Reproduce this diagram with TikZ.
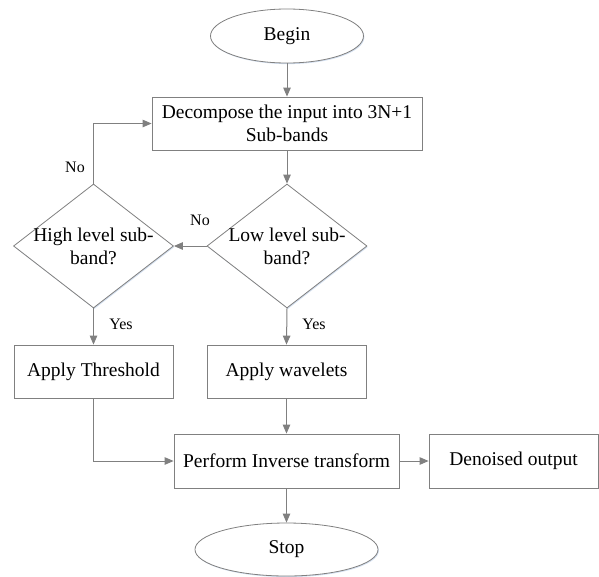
\documentclass[tikz,border=0pt]{standalone}
\usepackage{fontspec}
\setmainfont{Liberation Serif}
\usetikzlibrary{shapes.geometric,arrows.meta,shadows}
\definecolor{linegray}{HTML}{808080}
\definecolor{shadowblue}{HTML}{C9D8EC}
\begin{document}
\begin{tikzpicture}[x=1pt,y=-1pt,
  every node/.style={font=\fontsize{19.5}{23.4}\selectfont},
  shad/.style={drop shadow={shadow xshift=0.9pt,shadow yshift=-1.1pt,fill=shadowblue,opacity=0.8}},
  box/.style={draw=linegray,line width=0.8pt,fill=white,rectangle,inner sep=0pt,align=center,shad},
  oval/.style={draw=linegray,line width=0.8pt,fill=white,ellipse,inner sep=0pt,shad},
  dia/.style={draw=linegray,line width=0.8pt,fill=white,diamond,inner sep=0pt,minimum width=160pt,minimum height=124pt,shad},
  inlbl/.style={align=center,font=\fontsize{19.5}{23}\selectfont},
  lbl/.style={font=\fontsize{16}{19}\selectfont,inner sep=0pt},
  conn/.style={draw=linegray,line width=1pt,-{Triangle[length=9pt,width=7.5pt]}}
]
\useasboundingbox (0,0) rectangle (599,576);
\node[oval,minimum width=153pt,minimum height=54pt] (begin) at (287,36) {Begin};
\node[box,minimum width=270pt,minimum height=53pt] (dec) at (287,123.5) {Decompose the input into 3N+1\\Sub-bands};
\node[dia] (low) at (287,246) {};
\node[inlbl] (lowt) at (287,246) {Low level sub-\\band?};
\node[dia] (high) at (93.5,246) {};
\node[inlbl] (hight) at (93.5,246) {High level sub-\\band?};
\node[box,minimum width=159pt,minimum height=53pt] (thr) at (93.5,371.5) {Apply Threshold};
\node[box,minimum width=159pt,minimum height=53pt] (wav) at (286.5,371.5) {Apply wavelets};
\node[box,minimum width=225pt,minimum height=54pt] (inv) at (286.5,461) {Perform Inverse transform};
\node[box,minimum width=169pt,minimum height=54pt] (den) at (513.5,461) {Denoised output};
\node[oval,minimum width=183pt,minimum height=53pt] (stop) at (286.5,549.5) {Stop};

\draw[conn] (begin.south) -- (dec.north);
\draw[conn] (dec.south) -- (low.north);
\draw[conn] (low.west) -- (high.east);
\draw[conn] (high.north) |- (dec.west);
\draw[conn] (high.south) -- (thr.north);
\draw[conn] (low.south) -- (wav.north);
\draw[conn] (wav.south) -- (inv.north);
\draw[conn] (thr.south) |- (inv.west);
\draw[conn] (inv.east) -- (den.west);
\draw[conn] (inv.south) -- (stop.north);

\node[lbl] (no1) at (75,167) {No};
\node[lbl] (no2) at (200,220) {No};
\node[lbl] (yes1) at (121,324) {Yes};
\node[lbl] (yes2) at (314,324) {Yes};
\end{tikzpicture}
\end{document}
